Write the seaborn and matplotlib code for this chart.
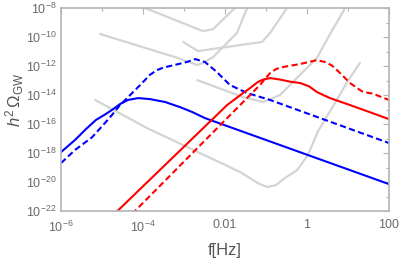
import numpy as np
import pandas as pd
import matplotlib
matplotlib.use("Agg")
import matplotlib.pyplot as plt
import seaborn as sns

# ------------------------------------------
# Data (log10 values)
# ------------------------------------------
# blue spectra
blue_solid_logf = [-6.0, -5.66, -5.39, -5.15, -4.95, -4.76, -4.56, -4.37, -4.12, -3.83, -3.46, -3.10, -2.80, -2.49, 2.0]
blue_solid_logo = [-17.93, -17.10, -16.34, -15.72, -15.38, -15.03, -14.62, -14.34, -14.21, -14.28, -14.48, -14.83, -15.17, -15.59, -20.14]

blue_dash_logf = [-6.0, -5.66, -5.24, -4.93, -4.76, -4.56, -4.07, -3.83, -3.66, -3.50, -3.34, -2.93, -2.73, -2.49, -2.20, -1.88, -1.46, -0.90, 2.0]
blue_dash_logo = [-18.69, -17.79, -16.90, -15.93, -15.38, -14.69, -13.31, -12.60, -12.28, -12.10, -12.00, -11.72, -11.52, -11.72, -12.41, -13.31, -13.86, -14.34, -17.31]

# red spectra
red_solid_logf = [-4.70, -1.95, -1.56, -1.39, -1.20, -1.07, -0.90, -0.66, -0.41, -0.17, 0.05, 0.24, 0.56, 1.05, 2.0]
red_solid_logo = [-22.2, -14.69, -13.86, -13.52, -13.10, -12.93, -12.83, -12.93, -13.08, -13.17, -13.40, -13.79, -14.21, -14.69, -15.66]

red_dash_logf = [-4.27, -1.39, -1.15, -0.90, -0.75, -0.59, -0.17, 0.05, 0.24, 0.44, 0.60, 0.73, 0.90, 1.05, 1.22, 1.37, 1.60, 2.0]
red_dash_logo = [-22.2, -14.00, -13.31, -12.48, -12.20, -12.07, -11.86, -11.72, -11.59, -11.72, -11.95, -12.28, -12.75, -13.17, -13.52, -13.79, -13.90, -14.34]

# grey sensitivity curves
sens_a_logf = [-4.20, -3.95, -2.54, -2.29, -1.76, -1.70]
sens_a_logo = [-7.80, -8.00, -9.59, -9.45, -8.00, -7.80]

sens_b_logf = [-5.05, -3.22, -2.68, -2.54, -2.29, -2.05, -1.71, -1.46]
sens_b_logo = [-9.79, -11.38, -11.93, -11.79, -11.38, -10.69, -9.72, -8.00]

sens_c_logf = [-3.02, -2.66, -1.10, -0.90, -0.49]
sens_c_logo = [-10.34, -10.97, -10.34, -9.72, -8.00]

sens_d_logf = [-2.68, -1.56, -1.07, -0.66, -0.17, 0.24, 0.56, 0.93]
sens_d_logo = [-12.97, -14.14, -14.48, -14.00, -12.60, -11.45, -9.80, -8.00]

sens_e_logf = [-5.17, -3.90, -2.61, -1.63, -1.20, -0.98, -0.76, -0.54, -0.24, 0.02, 0.27, 0.39, 0.68, 0.98, 1.29]
sens_e_logo = [-14.34, -16.28, -18.00, -19.31, -20.07, -20.34, -20.21, -19.72, -19.17, -18.14, -16.48, -15.93, -14.55, -13.10, -11.79]

xtick_pos = [1e-6, 1e-4, 1e-2, 1, 100]
xtick_labels = [r'$10^{-6}$', r'$10^{-4}$', '0.01', '1', '100']
ytick_exp = [-8, -10, -12, -14, -16, -18, -20, -22]


def to_df(logf, logo):
    return pd.DataFrame({'f': 10.0 ** np.array(logf), 'omega': 10.0 ** np.array(logo)})


# ------------------------------------------
# Style
# ------------------------------------------
sns.set_style("white")
plt.rcParams['font.family'] = ['Liberation Sans', 'DejaVu Sans']
plt.rcParams['mathtext.fontset'] = 'custom'
plt.rcParams['mathtext.rm'] = 'Liberation Sans'
plt.rcParams['mathtext.it'] = 'Liberation Sans:italic'

fig = plt.figure(figsize=(3.99, 2.59), dpi=100)
ax = fig.add_axes([0.153, 0.185, 0.822, 0.784])

grey = '#d4d4d4'
for lf, lo in [(sens_a_logf, sens_a_logo), (sens_b_logf, sens_b_logo), (sens_c_logf, sens_c_logo),
               (sens_d_logf, sens_d_logo), (sens_e_logf, sens_e_logo)]:
    sns.lineplot(data=to_df(lf, lo), x='f', y='omega', ax=ax, color=grey, lw=1.6,
                 sort=False, estimator=None)

dash = (0, (3, 1.6))
sns.lineplot(data=to_df(blue_solid_logf, blue_solid_logo), x='f', y='omega', ax=ax,
             color='#0000ff', lw=1.5, sort=False, estimator=None)
sns.lineplot(data=to_df(blue_dash_logf, blue_dash_logo), x='f', y='omega', ax=ax,
             color='#0000ff', lw=1.5, linestyle=dash, sort=False, estimator=None)
sns.lineplot(data=to_df(red_solid_logf, red_solid_logo), x='f', y='omega', ax=ax,
             color='#ff0000', lw=1.5, sort=False, estimator=None)
sns.lineplot(data=to_df(red_dash_logf, red_dash_logo), x='f', y='omega', ax=ax,
             color='#ff0000', lw=1.5, linestyle=dash, sort=False, estimator=None)

ax.set_xscale('log')
ax.set_yscale('log')
ax.set_xlim(1e-6, 100)
ax.set_ylim(1e-22, 1e-8)

# ticks: labels every two decades, marks at every decade
ax.set_xticks(xtick_pos)
ax.set_xticklabels(xtick_labels)
ax.set_xticks([10.0 ** e for e in range(-5, 3, 2)], minor=True)
ax.set_yticks([10.0 ** e for e in ytick_exp])
ax.set_yticklabels([r'$10^{%d}$' % e for e in ytick_exp])
ax.set_yticks([10.0 ** e for e in range(-21, -8, 2)], minor=True)
ax.yaxis.set_minor_formatter(matplotlib.ticker.NullFormatter())
ax.xaxis.set_minor_formatter(matplotlib.ticker.NullFormatter())

tick_col = '#b4b4b4'
ax.tick_params(which='both', direction='in', top=True, right=True, color=tick_col,
               labelcolor='#6a6a6a', labelsize=9, width=0.8, pad=3)
ax.tick_params(axis='x', which='major', pad=6)
ax.tick_params(which='major', length=4)
ax.tick_params(which='minor', length=2.5)
for s in ax.spines.values():
    s.set_color(tick_col)
    s.set_linewidth(1.2)

ax.set_xlabel('f[Hz]', fontsize=12, color='#555555', labelpad=6)
ax.set_ylabel(r'$h^2\,\Omega_{\rm GW}$', fontsize=12, color='#555555')
ax.yaxis.set_label_coords(-0.108, 0.55)

fig.savefig('out.png', dpi=100)
